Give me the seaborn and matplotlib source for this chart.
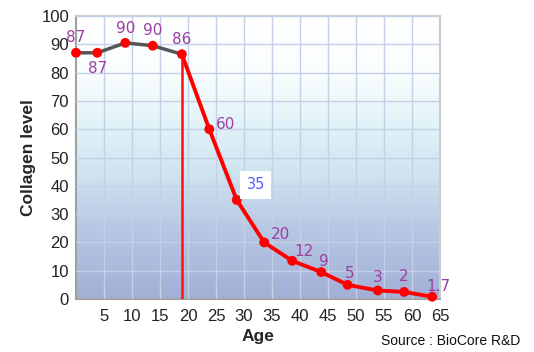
import numpy as np
import pandas as pd
import matplotlib.pyplot as plt
from matplotlib.colors import LinearSegmentedColormap
import seaborn as sns

# ==========================================
# Dados
# ==========================================
idade = [0, 3.8, 8.8, 13.7, 18.9, 23.8, 28.7, 33.6, 38.6, 43.8, 48.5, 53.9, 58.6, 63.6]
colageno = [87, 87, 90.5, 89.5, 86.5, 60, 35, 20, 13.5, 9.5, 5, 3, 2.5, 0.8]
rotulos = ['87', '87', '90', '90', '86', '60', '35', '20', '12', '9', '5', '3', '2', '1.7']
# deslocamento dos rótulos em pixels
desloc = [(0, 15), (0, -16), (0, 14), (0, 15), (0, 15), (16, 5), (19, 15),
          (16, 8), (12, 9), (3, 11), (2, 11), (0, 13), (0, 15), (6, 10)]
ticks_x = list(range(5, 70, 5))
ticks_y = list(range(0, 110, 10))

df = pd.DataFrame({'idade': idade, 'colageno': colageno})
jovem = df.iloc[:5]
queda = df.iloc[4:]

sns.set_theme(style="white")
plt.rcParams['font.family'] = ['Liberation Sans', 'DejaVu Sans']

fig = plt.figure(figsize=(5.34, 3.52), dpi=100)
ax = fig.add_axes([76 / 534, 1 - 299 / 352, 364 / 534, 283 / 352])

# fundo em degradê
cmap = LinearSegmentedColormap.from_list('fundo', [
    (0.0, '#a2afd6'), (0.25, '#b8c8e4'), (0.45, '#d0e4f0'),
    (0.62, '#e2f3f9'), (0.8, '#fafdfe'), (1.0, '#ffffff')])
grad = np.linspace(0, 1, 256).reshape(-1, 1)
ax.imshow(grad, extent=[0, 65, 0, 100], origin='lower', aspect='auto',
          cmap=cmap, zorder=0)

ax.set_xlim(0, 65)
ax.set_ylim(0, 100)
ax.set_xticks(ticks_x)
ax.set_yticks(ticks_y)
ax.grid(True, color='#c4d0e6', linewidth=1, zorder=1)
ax.set_axisbelow(False)

ax.vlines(idade[4], 0, colageno[4], color='#ff1010', linewidth=1.8, zorder=3)
sns.lineplot(data=jovem, x='idade', y='colageno', color='#555555',
             linewidth=2.5, ax=ax, zorder=3)
sns.lineplot(data=queda, x='idade', y='colageno', color='#ff0000',
             linewidth=2.8, ax=ax, zorder=4)
sns.scatterplot(data=df, x='idade', y='colageno', color='#ff0000', s=50,
                edgecolor='none', ax=ax, zorder=5, clip_on=False)

for xi, yi, txt, (dx, dy) in zip(idade, colageno, rotulos, desloc):
    if txt == '35':
        ax.annotate(txt, (xi, yi), xytext=(dx, dy), textcoords='offset pixels',
                    ha='center', va='center', fontsize=10.5, color='#5a5aff',
                    family='DejaVu Sans', zorder=6,
                    bbox=dict(boxstyle='square,pad=0.45', fc='white', ec='none'))
    else:
        ax.annotate(txt, (xi, yi), xytext=(dx, dy), textcoords='offset pixels',
                    ha='center', va='center', fontsize=11, color='#9b3fa3',
                    family='DejaVu Sans', zorder=6)

ax.tick_params(axis='both', length=0, labelsize=12, colors='#222222')
ax.tick_params(axis='x', pad=7)
ax.tick_params(axis='y', pad=5)
for lado in ['left', 'bottom']:
    ax.spines[lado].set_color('#a0a0a0')
    ax.spines[lado].set_linewidth(1.5)
for lado in ['top', 'right']:
    ax.spines[lado].set_color('#cccccc')
    ax.spines[lado].set_linewidth(1.5)

ax.set_xlabel('Age', fontsize=12.5, fontweight='bold', labelpad=4)
ax.set_ylabel('Collagen level', fontsize=12.5, fontweight='bold', labelpad=4)
fig.text(451 / 534, 1 - 341 / 352, 'Source : BioCore R&D', fontsize=10,
         ha='center', va='center', color='#111111')

plt.savefig('out.png', dpi=100)
plt.close()
